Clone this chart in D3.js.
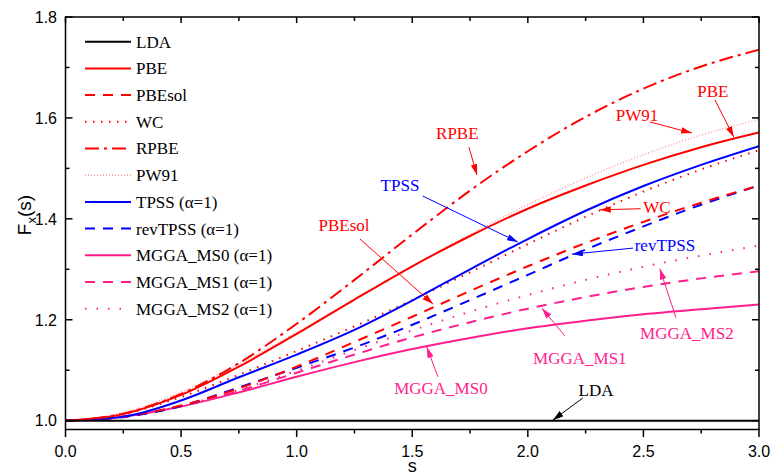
<!DOCTYPE html>
<html>
<head>
<meta charset="utf-8">
<title>Fx(s)</title>
<script src="https://d3js.org/d3.v7.min.js"></script>
<style>
  body { margin: 0; background: #fff; }
  svg { display: block; }
  .tick-label { font-family: "Liberation Sans", Arial, sans-serif; font-size: 16px; }
  .serif { font-family: "Liberation Serif", "Times New Roman", serif; font-size: 17px; }
</style>
</head>
<body>
<div id="chart"></div>
<script>
/* ------------------------------------------------------------
 *  Data
 * ------------------------------------------------------------ */
var sVals    = [0, 0.25, 0.5, 0.75, 1.0, 1.25, 1.5, 1.75, 2.0, 2.25, 2.5, 2.75, 3.0];
var lda      = [1, 1, 1, 1, 1, 1, 1, 1, 1, 1, 1, 1, 1];
var pbe      = [1, 1.013, 1.051, 1.107, 1.172, 1.240, 1.306, 1.366, 1.420, 1.466, 1.507, 1.542, 1.571];
var pbesol   = [1, 1.008, 1.030, 1.064, 1.107, 1.156, 1.206, 1.257, 1.306, 1.352, 1.394, 1.432, 1.466];
var wc       = [1, 1.013, 1.047, 1.091, 1.138, 1.187, 1.239, 1.294, 1.350, 1.404, 1.454, 1.498, 1.536];
var rpbe     = [1, 1.014, 1.053, 1.114, 1.192, 1.279, 1.369, 1.456, 1.534, 1.602, 1.658, 1.702, 1.735];
var pw91     = [1, 1.016, 1.057, 1.112, 1.175, 1.241, 1.306, 1.369, 1.428, 1.481, 1.527, 1.566, 1.597];
var tpss     = [1, 1.008, 1.040, 1.086, 1.131, 1.180, 1.238, 1.300, 1.360, 1.416, 1.465, 1.507, 1.544];
var revtpss  = [1, 1.007, 1.029, 1.066, 1.105, 1.145, 1.190, 1.239, 1.289, 1.339, 1.385, 1.428, 1.466];
var ms0      = [1, 1.008, 1.028, 1.056, 1.087, 1.116, 1.142, 1.164, 1.183, 1.198, 1.211, 1.221, 1.230];
var ms1      = [1, 1.008, 1.029, 1.059, 1.095, 1.131, 1.165, 1.195, 1.222, 1.245, 1.265, 1.282, 1.296];
var ms2      = [1, 1.008, 1.029, 1.061, 1.099, 1.140, 1.179, 1.216, 1.249, 1.279, 1.305, 1.327, 1.347];

var xTicks = [0, 0.5, 1.0, 1.5, 2.0, 2.5, 3.0];
var xMinor = [0.25, 0.75, 1.25, 1.75, 2.25, 2.75];
var yTicks = [1.0, 1.2, 1.4, 1.6, 1.8];
var yMinor = [1.1, 1.3, 1.5, 1.7];

var red = "#ff0000", blue = "#0000ff", pink = "#ff1e8c";

// name, values, colour, dash
var series = [
    ["LDA", lda, "#000000", null],
    ["PBE", pbe, red, null],
    ["PBEsol", pbesol, red, "10,8"],
    ["WC", wc, red, "1.5,6.5"],
    ["RPBE", rpbe, red, "14,5,3,5"],
    ["PW91", pw91, "#ff9c9c", "1,2"],
    ["TPSS (\u03b1=1)", tpss, blue, null],
    ["revTPSS (\u03b1=1)", revtpss, blue, "10,8"],
    ["MGGA_MS0 (\u03b1=1)", ms0, pink, null],
    ["MGGA_MS1 (\u03b1=1)", ms1, pink, "10,8"],
    ["MGGA_MS2 (\u03b1=1)", ms2, pink, "1.5,10"]
];

// label, colour, text [s,F], arrow from [s,F], arrow to [s,F]
var notes = [
    ["RPBE", red, [1.695, 1.571], [1.745, 1.542], [1.780, 1.487]],
    ["PBE", red, [2.800, 1.653], [2.809, 1.636], [2.891, 1.562]],
    ["PW91", red, [2.472, 1.606], [2.528, 1.592], [2.710, 1.570]],
    ["TPSS", blue, [1.447, 1.467], [1.546, 1.445], [1.957, 1.354]],
    ["WC", red, [2.558, 1.424], [2.488, 1.420], [2.312, 1.418]],
    ["revTPSS", blue, [2.593, 1.348], [2.455, 1.342], [2.191, 1.330]],
    ["PBEsol", red, [1.205, 1.388], [1.274, 1.360], [1.590, 1.231]],
    ["MGGA_MS2", pink, [2.688, 1.174], [2.641, 1.204], [2.571, 1.301]],
    ["MGGA_MS1", pink, [2.225, 1.124], [2.160, 1.168], [2.061, 1.223]],
    ["MGGA_MS0", pink, [1.624, 1.065], [1.611, 1.087], [1.563, 1.146]],
    ["LDA", "#000000", [2.295, 1.061], [2.238, 1.045], [2.108, 1.001]]
];

/* ------------------------------------------------------------
 *  Setup
 * ------------------------------------------------------------ */
var width = 771, height = 474;
var pLeft = 65.5, pRight = 759, pTop = 17, pBottom = 429.5;

var x = d3.scaleLinear().domain([0, 3]).range([pLeft, pRight]);
var y = d3.scaleLinear().domain([0.9825, 1.8]).range([pBottom, pTop]);

var svg = d3.select("#chart").append("svg")
    .attr("width", width)
    .attr("height", height);

var defs = svg.append("defs");
defs.append("clipPath").attr("id", "plot-clip")
    .append("rect")
    .attr("x", pLeft).attr("y", pTop)
    .attr("width", pRight - pLeft).attr("height", pBottom - pTop);

// arrow heads, one per colour
var arrowColors = {"red": red, "blue": blue, "pink": pink, "black": "#000000"};
Object.keys(arrowColors).forEach(function(k){
    defs.append("marker")
        .attr("id", "arrow-" + k)
        .attr("markerUnits", "userSpaceOnUse")
        .attr("viewBox", "0 0 10 6")
        .attr("refX", 10).attr("refY", 3)
        .attr("markerWidth", 11).attr("markerHeight", 6.5)
        .attr("orient", "auto")
        .append("path")
        .attr("d", "M0,0 L10,3 L0,6 Z")
        .attr("fill", arrowColors[k]);
});
function arrowId(c){
    if (c === red) return "red";
    if (c === blue) return "blue";
    if (c === pink) return "pink";
    return "black";
}

/* ------------------------------------------------------------
 *  Curves
 * ------------------------------------------------------------ */
var line = d3.line()
    .x(function(d){ return x(d[0]); })
    .y(function(d){ return y(d[1]); })
    .curve(d3.curveMonotoneX);

var curves = svg.append("g").attr("clip-path", "url(#plot-clip)");
// faint / dotted ones first, LDA and solids on top
var order = [5, 3, 10, 9, 8, 7, 2, 4, 6, 1, 0];
order.forEach(function(i){
    var s = series[i];
    curves.append("path")
        .datum(sVals.map(function(v, j){ return [v, s[1][j]]; }))
        .attr("d", line)
        .attr("fill", "none")
        .attr("stroke", s[2])
        .attr("stroke-width", i === 5 ? 1.5 : 2)
        .attr("stroke-dasharray", s[3]);
});

/* ------------------------------------------------------------
 *  Axes (frame with ticks on all sides)
 * ------------------------------------------------------------ */
var axisG = svg.append("g").attr("stroke", "#000").attr("stroke-width", 1.5);
axisG.append("rect")
    .attr("x", pLeft).attr("y", pTop)
    .attr("width", pRight - pLeft).attr("height", pBottom - pTop)
    .attr("fill", "none");

// bottom: ticks outward, top: inward
xTicks.forEach(function(t){
    axisG.append("line").attr("x1", x(t)).attr("x2", x(t)).attr("y1", pBottom).attr("y2", pBottom + 7.5);
    axisG.append("line").attr("x1", x(t)).attr("x2", x(t)).attr("y1", pTop).attr("y2", pTop + 6);
});
xMinor.forEach(function(t){
    axisG.append("line").attr("x1", x(t)).attr("x2", x(t)).attr("y1", pBottom).attr("y2", pBottom + 4);
    axisG.append("line").attr("x1", x(t)).attr("x2", x(t)).attr("y1", pTop).attr("y2", pTop + 4);
});
// left / right: inward
yTicks.forEach(function(t){
    axisG.append("line").attr("x1", pLeft).attr("x2", pLeft + 7).attr("y1", y(t)).attr("y2", y(t));
    axisG.append("line").attr("x1", pRight).attr("x2", pRight - 7).attr("y1", y(t)).attr("y2", y(t));
});
yMinor.forEach(function(t){
    axisG.append("line").attr("x1", pLeft).attr("x2", pLeft + 4).attr("y1", y(t)).attr("y2", y(t));
    axisG.append("line").attr("x1", pRight).attr("x2", pRight - 4).attr("y1", y(t)).attr("y2", y(t));
});

var fmt = d3.format(".1f");
svg.append("g").selectAll("text")
    .data(xTicks).enter().append("text")
    .attr("class", "tick-label")
    .attr("x", function(d){ return x(d); })
    .attr("y", 457)
    .attr("text-anchor", "middle")
    .text(fmt);
svg.append("g").selectAll("text")
    .data(yTicks).enter().append("text")
    .attr("class", "tick-label")
    .attr("x", 57)
    .attr("y", function(d){ return y(d); })
    .attr("dy", "0.36em")
    .attr("text-anchor", "end")
    .text(fmt);

// axis titles
svg.append("text")
    .attr("class", "tick-label")
    .style("font-size", "18px")
    .attr("x", x(1.5)).attr("y", 471.5)
    .attr("text-anchor", "middle")
    .text("s");

var yt = svg.append("text")
    .attr("class", "tick-label")
    .style("font-size", "19px")
    .attr("transform", "translate(31,215) rotate(-90)")
    .attr("text-anchor", "middle");
yt.append("tspan").text("F");
yt.append("tspan").attr("dy", 5).style("font-size", "13px").text("x");
yt.append("tspan").attr("dy", -5).text("(s)");

/* ------------------------------------------------------------
 *  Legend
 * ------------------------------------------------------------ */
var legend = svg.append("g");
series.forEach(function(s, i){
    var ly = 41.7 + i * 26.7;
    legend.append("line")
        .attr("x1", 85).attr("x2", 131)
        .attr("y1", ly).attr("y2", ly)
        .attr("stroke", s[2])
        .attr("stroke-width", i === 5 ? 1.5 : 2)
        .attr("stroke-dasharray", s[3]);
    legend.append("text")
        .attr("class", "serif")
        .attr("x", 136).attr("y", ly)
        .attr("dy", "0.35em")
        .text(s[0]);
});

/* ------------------------------------------------------------
 *  Annotations
 * ------------------------------------------------------------ */
var ann = svg.append("g");
notes.forEach(function(n){
    ann.append("line")
        .attr("x1", x(n[3][0])).attr("y1", y(n[3][1]))
        .attr("x2", x(n[4][0])).attr("y2", y(n[4][1]))
        .attr("stroke", n[1])
        .attr("stroke-width", 1)
        .attr("marker-end", "url(#arrow-" + arrowId(n[1]) + ")");
    ann.append("text")
        .attr("class", "serif")
        .attr("x", x(n[2][0])).attr("y", y(n[2][1]))
        .attr("dy", "0.35em")
        .attr("text-anchor", "middle")
        .attr("fill", n[1])
        .text(n[0]);
});
</script>
</body>
</html>
